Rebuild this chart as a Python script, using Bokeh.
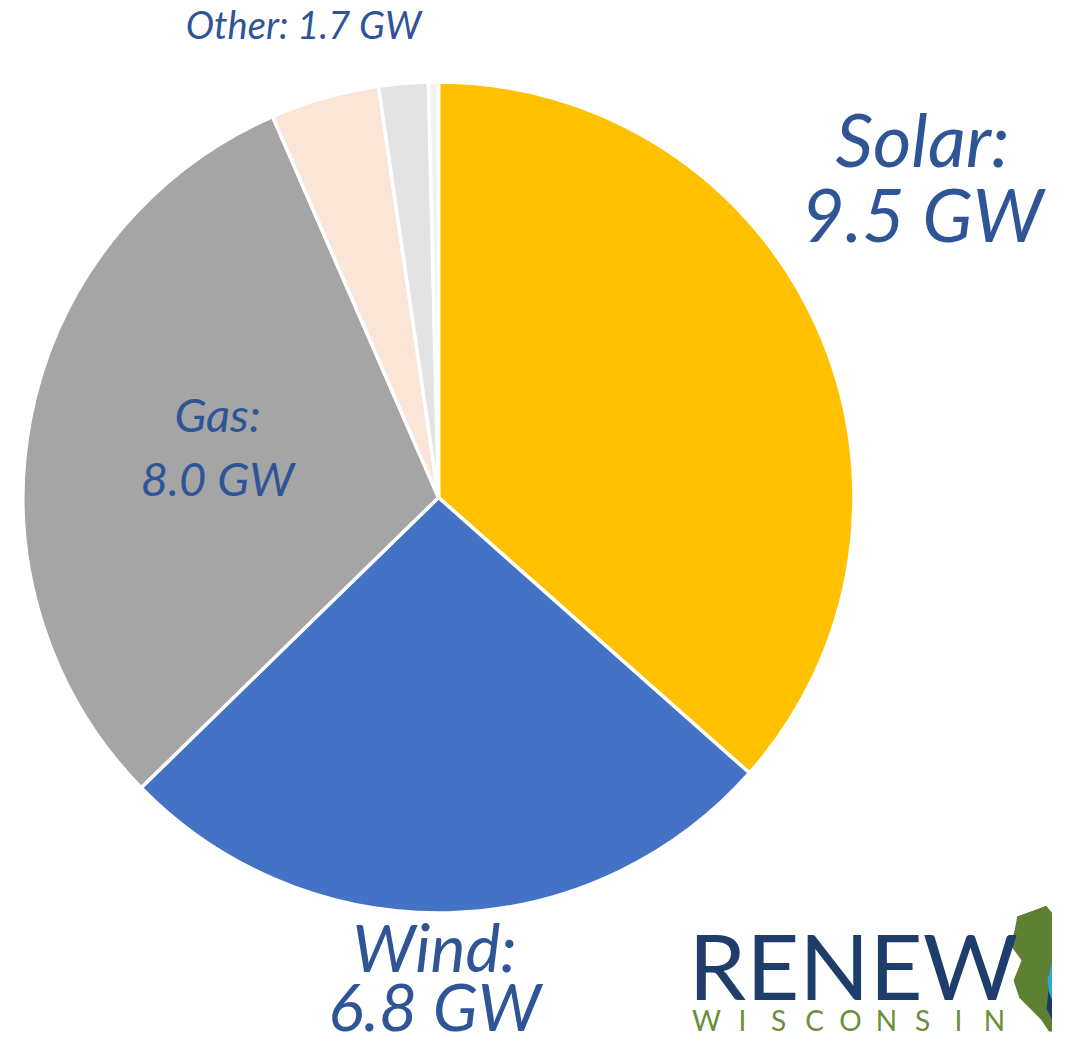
import math
from bokeh.plotting import figure
from bokeh.models import Range1d, ColumnDataSource
from bokeh.core.properties import value
from bokeh.embed import file_html
from bokeh.resources import INLINE

# ---- data ----
categories = ["Solar", "Wind", "Gas", "Other A", "Other B", "Other C"]
capacity_gw = [9.5, 6.8, 8.0, 1.1, 0.5, 0.1]
colors = ["#FFC000", "#4472C4", "#A5A5A5", "#FBE5D6", "#E3E3E3", "#F2F2F2"]
label_lines = [("Solar:", "9.5 GW"), ("Wind:", "6.8 GW"), ("Gas:", "8.0 GW")]
other_label = "Other: 1.7 GW"
logo_main = "RENEW"
logo_sub = "WISCONSIN"

# ---- layout ----
W, H = 1052, 1046
p = figure(width=W, height=H, output_backend="svg", toolbar_location=None,
           x_range=Range1d(0, W), y_range=Range1d(-H, 0),
           min_border=0, border_fill_color="white", background_fill_color="white")
p.axis.visible = False
p.grid.visible = False
p.outline_line_color = None

cx, cy, r = 438, -497, 415.5
total = sum(capacity_gw)
starts, ends = [], []
acc = 0.0
for v in capacity_gw:
    starts.append(math.pi / 2 - 2 * math.pi * acc / total)
    acc += v
    ends.append(math.pi / 2 - 2 * math.pi * acc / total)

src = ColumnDataSource(dict(cat=categories, val=capacity_gw, color=colors,
                            start=starts, end=ends))
p.wedge(x=cx, y=cy, radius=r, start_angle="start", end_angle="end",
        direction="clock", fill_color="color", line_color="white",
        line_width=3.5, source=src)

label_color = "#2F5597"
font = value("Lato")
BASE_K = 0.39  # compensation so that glyph baselines land where wanted


def put_text(xs, baselines, texts, size, color=label_color, style="italic", align="center"):
    p.text(x=xs, y=[-(b - BASE_K * size) for b in baselines], text=texts,
           text_font=font, text_font_style=style, text_font_size=f"{size}px",
           text_color=color, text_align=align, text_baseline="alphabetic")


put_text([922, 922], [167, 242], list(label_lines[0]), 74)
put_text([434, 434], [972, 1031], list(label_lines[1]), 66)
put_text([217, 217], [432, 496], list(label_lines[2]), 47)
put_text([303], [38], [other_label], 38)

# ---- logo (decorative) ----
dy = -30
wx = [1016, 1030, 1046, 1056, 1068, 1068, 1048, 1040, 1030, 1018, 1012, 1020, 1009, 1013]
wy = [945, 940, 934, 946, 954, 1062, 1062, 1050, 1040, 1028, 1010, 990, 975, 960]
p.patch(x=wx, y=[-(v + dy) for v in wy], fill_color="#5E8033", line_color="white", line_width=2)
sx = [1060, 1052, 1047, 1050, 1060, 1068, 1068, 1060, 1056, 1058, 1064]
sy = [975, 990, 1010, 1030, 1040, 1042, 1030, 1026, 1012, 998, 985]
p.patch(x=sx, y=[-(v + dy) for v in sy], fill_color="#2AA8DF", line_color=None)
nx = [1048, 1046, 1052, 1062, 1068, 1068, 1060, 1054]
ny = [1020, 1038, 1050, 1056, 1058, 1050, 1046, 1036]
p.patch(x=nx, y=[-(v + dy) for v in ny], fill_color="#1F3A64", line_color=None)
p.patch(x=[1058, 1068, 1068, 1062], y=[-(v + dy) for v in [1010, 1000, 1012, 1016]],
        fill_color="#F2E33A", line_color=None)

put_text([688], [1000], [logo_main], 92, color="#1E3D6B", style="normal", align="left")
put_text([706 + 36 * i for i in range(len(logo_sub))], [1030] * len(logo_sub),
         list(logo_sub), 28, color="#6B8E3A", style="normal", align="center")

open("out.html", "w").write(file_html(p, INLINE))
